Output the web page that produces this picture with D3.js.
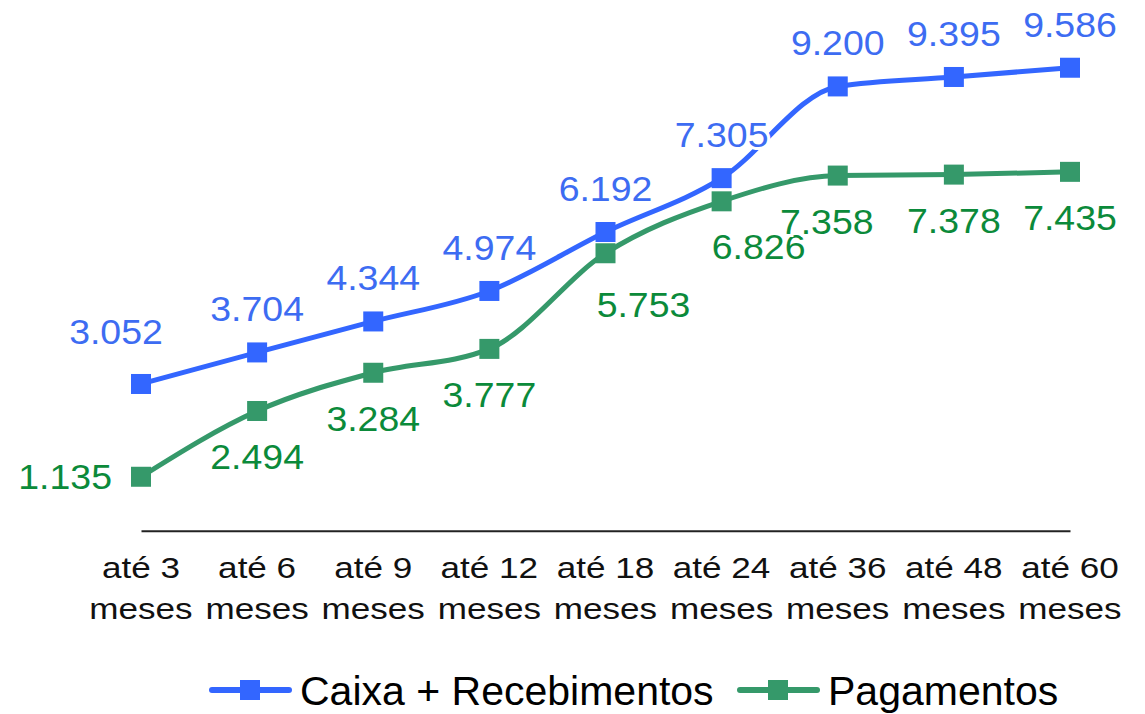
<!DOCTYPE html>
<html>
<head>
<meta charset="utf-8">
<script src="https://cdn.jsdelivr.net/npm/d3@7"></script>
<style>
  body { margin: 0; background: #fff; }
  svg { font-family: "Liberation Sans", Arial, sans-serif; }
</style>
</head>
<body>
<div class="visHolder"></div>
<script>
const categories = ['até 3 meses', 'até 6 meses', 'até 9 meses', 'até 12 meses', 'até 18 meses',
    'até 24 meses', 'até 36 meses', 'até 48 meses', 'até 60 meses'];
const caixa = [3.052, 3.704, 4.344, 4.974, 6.192, 7.305, 9.200, 9.395, 9.586];
const pagamentos = [1.135, 2.494, 3.284, 3.777, 5.753, 6.826, 7.358, 7.378, 7.435];
const seriesNames = ['Caixa + Recebimentos', 'Pagamentos'];

const width = 1145,
    height = 714;

const svg = d3.select('.visHolder')
    .append('svg')
    .attr('width', width)
    .attr('height', height);

const xScale = d3.scalePoint()
    .domain(categories)
    .range([141, 1070]);

const yScale = d3.scaleLinear()
    .domain([0, 10])
    .range([531.7, 47.7]);

const fmt = v => v.toFixed(3);

// deslocamento horizontal dos rótulos (evitar sobreposição)
const caixaShift = [-25, 0, 0, 0, 0, 0, 0, 0, 0];
const pagShift = [0, 0, 0, 0, 38, 37, -11, 0, 0];

const series = [
    { name: seriesNames[0], values: caixa, line: '#3366ff', text: '#3d6cf2', pos: 'above', shift: caixaShift },
    { name: seriesNames[1], values: pagamentos, line: '#35996a', text: '#0b8a3a', pos: 'below', shift: pagShift }
];

// eixo X
const xAxis = d3.axisBottom(xScale).tickSize(0).tickFormat('');
svg.append('g')
    .attr('transform', `translate(0,${yScale(0) - 1})`)
    .call(xAxis)
    .call(g => g.select('.domain').attr('stroke', '#222').attr('stroke-width', 2));

const ticks = svg.append('g')
    .selectAll('text')
    .data(categories)
    .enter()
    .append('text')
    .attr('transform', d => `translate(${xScale(d)},0) scale(1.17,1)`)
    .attr('text-anchor', 'middle')
    .attr('font-size', 30)
    .attr('fill', '#111');
ticks.append('tspan').attr('x', 0).attr('y', 578).text(d => d.split(' ').slice(0, 2).join(' '));
ticks.append('tspan').attr('x', 0).attr('y', 619).text(d => d.split(' ')[2]);

const line = d3.line()
    .x((d, i) => xScale(categories[i]))
    .y(d => yScale(d))
    .curve(d3.curveMonotoneX);

series.forEach(s => {
    svg.append('path')
        .datum(s.values)
        .attr('d', line)
        .attr('fill', 'none')
        .attr('stroke', s.line)
        .attr('stroke-width', 5)
        .attr('stroke-linejoin', 'round');

    svg.append('g')
        .selectAll('rect')
        .data(s.values)
        .enter()
        .append('rect')
        .attr('x', (d, i) => xScale(categories[i]) - 10)
        .attr('y', d => yScale(d) - 10)
        .attr('width', 20)
        .attr('height', 20)
        .attr('fill', s.line);
});

// rótulos
series.forEach(s => {
    svg.append('g')
        .selectAll('text')
        .data(s.values)
        .enter()
        .append('text')
        .attr('transform', (d, i) => {
            const x = xScale(categories[i]);
            const y = yScale(d);
            let tx, ty;
            if (i === 0 && s.pos === 'below') {
                tx = x - 29; ty = y + 12;
            } else if (i === 0) {
                tx = x + s.shift[i]; ty = y - 40;
            } else {
                tx = x + s.shift[i];
                ty = s.pos === 'above' ? y - 31 : y + 58;
                if (s.pos === 'below' && i === 4) ty += 6;
            }
            return `translate(${tx},${ty}) scale(1.07,1)`;
        })
        .attr('text-anchor', (d, i) => (i === 0 && s.pos === 'below') ? 'end' : 'middle')
        .attr('font-size', 35)
        .attr('fill', s.text)
        .attr('stroke', '#fff')
        .attr('stroke-width', 6)
        .attr('paint-order', 'stroke')
        .text(fmt);
});

// legenda
const legendItems = [
    { x: 212, s: series[0] },
    { x: 740, s: series[1] }
];
const legend = svg.append('g');
legendItems.forEach(item => {
    const g = legend.append('g').attr('transform', `translate(${item.x},690)`);
    g.append('line')
        .attr('x1', 0).attr('x2', 77)
        .attr('stroke', item.s.line)
        .attr('stroke-width', 6)
        .attr('stroke-linecap', 'round');
    g.append('rect')
        .attr('x', 28).attr('y', -10)
        .attr('width', 20).attr('height', 20)
        .attr('fill', item.s.line);
    g.append('text')
        .attr('x', 88).attr('y', 15)
        .attr('font-size', 41)
        .attr('fill', '#000')
        .text(item.s.name);
});
</script>
</body>
</html>
